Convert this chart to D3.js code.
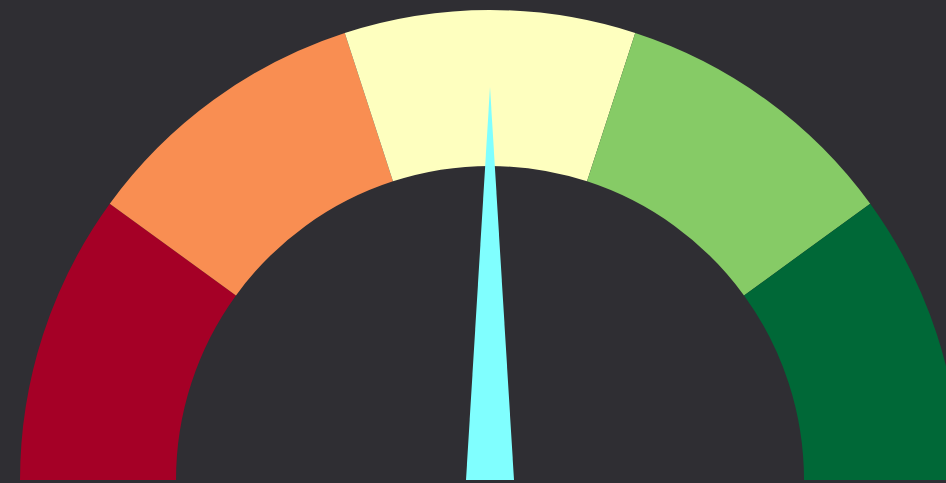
<!DOCTYPE html>
<html><head><meta charset="utf-8">
<script src="https://cdn.jsdelivr.net/npm/d3@7"></script>
<style>html,body{margin:0;padding:0;background:#2f2e33;overflow:hidden}</style>
</head><body>
<svg id="chart" width="946" height="483"></svg>
<script>
const bandLabels = ["Very Low", "Low", "Medium", "High", "Very High"];
const bandStops = [0, 20, 40, 60, 80, 100];
const bandColors = ["#a50026", "#f98e52", "#feffbf", "#86cb66", "#006837"];
const needleValue = 50;

const W = 946, H = 483;
const cx = 490, cy = 480, outerR = 470, innerR = 314;
const svg = d3.select("#chart");
svg.append("rect").attr("width", W).attr("height", H).attr("fill", "#2f2e33");

const angle = d3.scaleLinear().domain([0, 100]).range([-Math.PI / 2, Math.PI / 2]);
const arc = d3.arc().innerRadius(innerR).outerRadius(outerR);
const g = svg.append("g").attr("transform", `translate(${cx},${cy})`);

g.selectAll("path.band").data(bandLabels).join("path")
  .attr("class", "band")
  .attr("d", (d, i) => arc({startAngle: angle(bandStops[i]), endAngle: angle(bandStops[i + 1])}))
  .attr("fill", (d, i) => bandColors[i]);

// needle
const len = 393, halfBase = 24;
const a = angle(needleValue);
const tip = [len * Math.sin(a), -len * Math.cos(a)];
const b1 = [-halfBase * Math.cos(a), -halfBase * Math.sin(a)];
const b2 = [halfBase * Math.cos(a), halfBase * Math.sin(a)];
g.append("path")
  .attr("d", d3.line()([b1, tip, b2]) + "Z")
  .attr("fill", "#80ffff");
</script>
</body></html>
